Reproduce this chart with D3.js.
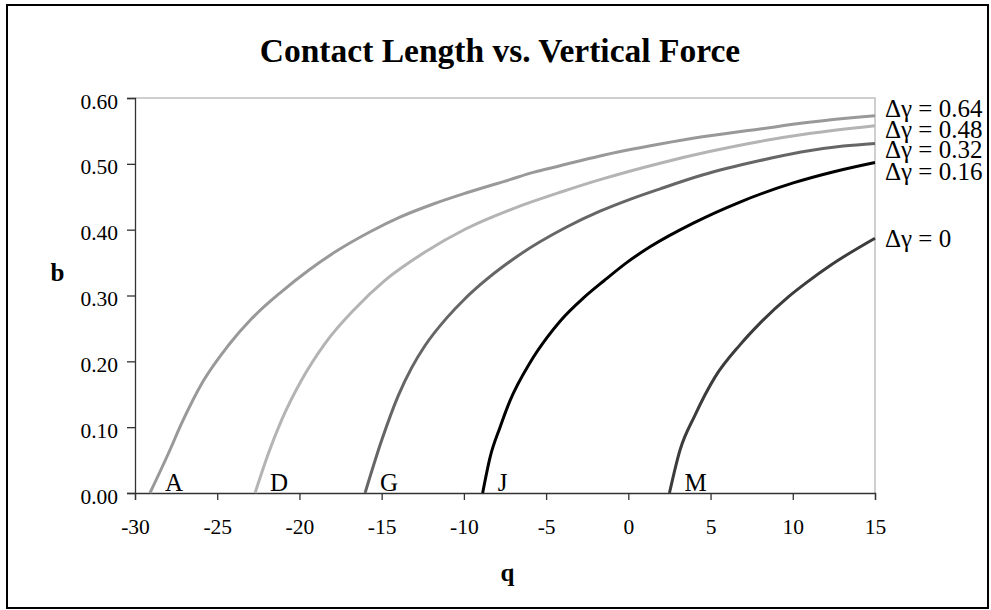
<!DOCTYPE html>
<html>
<head>
<meta charset="utf-8">
<script src="https://cdn.jsdelivr.net/npm/d3@7"></script>
<style>
  html, body { margin: 0; padding: 0; background: #fff; }
  svg { display: block; }
  text { font-family: "Times New Roman", "Liberation Serif", serif; fill: #000; }
</style>
</head>
<body>
<svg id="chart" width="991" height="610"></svg>
<script>
// Contact length b as a function of vertical force q, one curve per Δγ
const seriesNames = ["Δγ = 0.64", "Δγ = 0.48", "Δγ = 0.32", "Δγ = 0.16", "Δγ = 0"];
const startLetters = ["A", "D", "G", "J", "M"];

const curveA = [
  [-29.09, 0], [-27.97, 0.06], [-27.16, 0.106], [-25.85, 0.170], [-24.33, 0.224],
  [-22.90, 0.265], [-21.08, 0.306], [-19.46, 0.338], [-17.84, 0.366], [-15.61, 0.398],
  [-13.89, 0.419], [-11.86, 0.439], [-9.83, 0.456], [-7.20, 0.476], [-5.78, 0.487],
  [-4.15, 0.497], [-1.72, 0.512], [1.93, 0.530], [4.5, 0.541], [8.01, 0.553],
  [11.0, 0.563], [14.09, 0.571], [15, 0.573]
];
const curveD = [
  [-22.70, 0], [-21.89, 0.06], [-21.08, 0.111], [-19.86, 0.172], [-18.45, 0.227],
  [-16.62, 0.280], [-14.80, 0.323], [-12.36, 0.366], [-9.9, 0.401], [-7.0, 0.432],
  [-4.0, 0.458], [-1.72, 0.476], [1.93, 0.501], [5.0, 0.519], [8.0, 0.534],
  [11.0, 0.546], [15, 0.558]
];
const curveG = [
  [-16.01, 0], [-15.0, 0.08], [-13.99, 0.148], [-13.18, 0.190], [-12.36, 0.224],
  [-11.04, 0.266], [-9.98, 0.294], [-9.02, 0.316], [-6.79, 0.359], [-3.75, 0.404],
  [-1.72, 0.428], [0.10, 0.446], [1.93, 0.462], [4.5, 0.483], [8.01, 0.505],
  [10.5, 0.518], [13.08, 0.527], [15, 0.531]
];
const curveJ = [
  [-8.86, 0], [-8.40, 0.055], [-7.80, 0.100], [-7.20, 0.140], [-5.98, 0.198],
  [-4.95, 0.236], [-4.15, 0.261], [-2.74, 0.296], [-1.5, 0.322], [-0.10, 0.350],
  [1.32, 0.374], [3.95, 0.410], [6.79, 0.442], [10.03, 0.471], [12.5, 0.488],
  [15, 0.502]
];
const curveM = [
  [2.50, 0], [3.14, 0.065], [4.05, 0.118], [5.27, 0.176], [6.79, 0.225],
  [8.01, 0.258], [9.73, 0.298], [10.85, 0.320], [12.3, 0.346], [15, 0.387]
];
const curves = [curveA, curveD, curveG, curveJ, curveM];

const xTicks = [-30, -25, -20, -15, -10, -5, 0, 5, 10, 15];
const yTicks = [0, 0.1, 0.2, 0.3, 0.4, 0.5, 0.6];

// styling
const lineColors = ["#999999", "#b4b4b4", "#666666", "#000000", "#3c3c3c"];
const labelBaselineShift = [1.5, 12, 14.5, 17.5, 9]; // keeps the end labels from colliding

const svg = d3.select("#chart");
const plot = { left: 135, right: 875, top: 98, bottom: 493 };

const x = d3.scaleLinear().domain([-30, 15]).range([plot.left, plot.right]);
const y = d3.scaleLinear().domain([0, 0.6]).range([plot.bottom, plot.top]);

// outer chart frame
svg.append("rect")
  .attr("x", 7).attr("y", 5).attr("width", 981).attr("height", 603)
  .attr("fill", "#fff").attr("stroke", "#000").attr("stroke-width", 2);

// plot-area frame (top and right edges)
svg.append("path")
  .attr("d", `M${plot.left},${plot.top}H${plot.right}V${plot.bottom}`)
  .attr("fill", "none").attr("stroke", "#c0c0c0").attr("stroke-width", 1.5);

// title
svg.append("text")
  .attr("x", 500).attr("y", 62)
  .attr("text-anchor", "middle")
  .style("font-size", "33.5px").style("font-weight", "bold")
  .text("Contact Length vs. Vertical Force");

// axes
const xAxis = d3.axisBottom(x).tickValues(xTicks).tickSize(7).tickFormat(d => String(d));
const yAxis = d3.axisLeft(y).tickValues(yTicks).tickSize(8).tickFormat(d3.format(".2f"));

const gx = svg.append("g").attr("transform", `translate(0,${plot.bottom})`).call(xAxis);
const gy = svg.append("g").attr("transform", `translate(${plot.left},0)`).call(yAxis);

[gx, gy].forEach(g => {
  g.select(".domain").attr("stroke", "#333").attr("stroke-width", 1.3);
  g.selectAll(".tick line").attr("stroke", "#333").attr("stroke-width", 1.3);
  g.selectAll(".tick text")
    .style("font-family", '"Times New Roman", "Liberation Serif", serif')
    .style("font-size", "21.5px").attr("fill", "#000");
});
gx.selectAll(".tick text").attr("y", 0).attr("dy", null).attr("transform", "translate(0,40.5)");
gy.selectAll(".tick text").attr("x", -17).attr("dy", "0.47em");

// axis titles
svg.append("text").attr("x", 57.5).attr("y", 280.5)
  .attr("text-anchor", "middle")
  .style("font-size", "25px").style("font-weight", "bold").text("b");
svg.append("text").attr("x", 507.5).attr("y", 580.5)
  .attr("text-anchor", "middle")
  .style("font-size", "25px").style("font-weight", "bold").text("q");

// curves
const line = d3.line()
  .x(d => x(d[0]))
  .y(d => y(d[1]))
  .curve(d3.curveMonotoneX);

svg.append("g").selectAll("path")
  .data(curves)
  .join("path")
  .attr("d", line)
  .attr("fill", "none")
  .attr("stroke", (d, i) => lineColors[i])
  .attr("stroke-width", 3)
  .attr("stroke-linejoin", "round");

// series labels at the right end of each curve
svg.append("g").selectAll("text")
  .data(curves)
  .join("text")
  .attr("x", 885)
  .attr("y", (d, i) => y(d[d.length - 1][1]) + labelBaselineShift[i])
  .style("font-size", "25px")
  .text((d, i) => seriesNames[i]);

// letters marking where each curve leaves the q axis
svg.append("g").selectAll("text")
  .data(curves)
  .join("text")
  .attr("x", d => x(d[0][0]) + 15)
  .attr("y", y(0) - 2)
  .style("font-size", "25px")
  .text((d, i) => startLetters[i]);
</script>
</body>
</html>
